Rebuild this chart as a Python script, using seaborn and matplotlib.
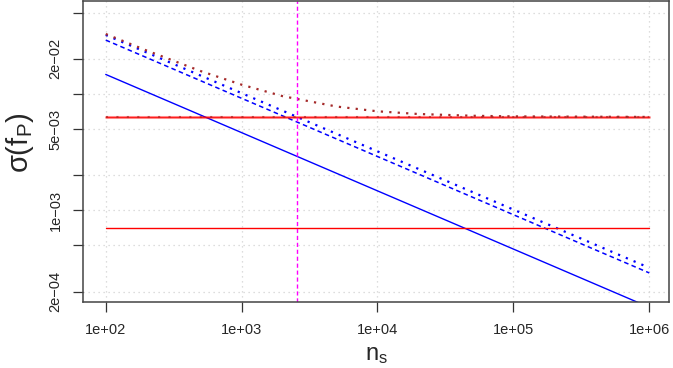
import numpy as np
import seaborn as sns
from matplotlib import pyplot as plt
from matplotlib import ticker

# values (log-log axes)
n_line = [1e2, 1e3, 1e4, 1e5, 1e6]
blue_solid = [0.0147, 0.00465, 0.00147, 0.000465, 0.000147]
blue_dashed = [0.0290, 0.00917, 0.00290, 0.000917, 0.000290]
blue_dotted = [0.0321, 0.01015, 0.00321, 0.001015, 0.000321]

n_curve = [1e2, 2e2, 5e2, 1e3, 2e3, 5e3, 1e4, 2e4, 5e4, 1e5, 1e6]
brown_dotted = [0.0327, 0.0236, 0.0157, 0.0120, 0.00957, 0.00779,
                0.00709, 0.00672, 0.00649, 0.00641, 0.00634]

n_flat = [1e2, 1e6]
red_high = [0.00633, 0.00633]
red_low = [0.00070, 0.00070]

n_cut = 2570

x_ticks = [1e2, 1e3, 1e4, 1e5, 1e6]
x_labels = ["1e+02", "1e+03", "1e+04", "1e+05", "1e+06"]
y_ticks = [2e-4, 5e-4, 1e-3, 2e-3, 5e-3, 1e-2, 2e-2, 5e-2]
y_labels = ["2e\u221204", "", "1e\u221203", "", "5e\u221203", "", "2e\u221202", ""]

sns.set_style("white")
plt.rcParams['font.family'] = ['Liberation Sans', 'DejaVu Sans']
plt.rcParams['mathtext.fontset'] = 'custom'
plt.rcParams['mathtext.rm'] = 'Liberation Sans'
plt.rcParams['mathtext.it'] = 'Liberation Sans'

fig = plt.figure(figsize=(6.73, 3.68), dpi=100)
ax = fig.add_axes([0.1238, 0.1785, 0.8698, 0.8175])
ax.set_xscale('log')
ax.set_yscale('log')

# grid
for xt in x_ticks:
    ax.axvline(xt, color='#d3d3d3', lw=0.9, linestyle=(0, (1, 3)), zorder=0)
for yt in y_ticks:
    ax.axhline(yt, color='#d3d3d3', lw=0.9, linestyle=(0, (1, 3)), zorder=0)

sns.lineplot(x=n_line, y=blue_solid, color='blue', lw=1, ax=ax)
sns.lineplot(x=n_line, y=blue_dashed, color='blue', lw=1.1, linestyle=(0, (3, 2.2)), ax=ax)
sns.lineplot(x=n_line, y=blue_dotted, color='blue', lw=1.6, linestyle=(0, (1, 2.8)), ax=ax)
sns.lineplot(x=n_flat, y=red_high, color='red', lw=2.2, alpha=0.4, ax=ax)
sns.lineplot(x=n_flat, y=red_high, color='red', lw=0.9, alpha=0.8, ax=ax)
sns.lineplot(x=n_flat, y=red_high, color='#b22222', lw=1.5, linestyle=(0, (1, 4)), alpha=0.7, ax=ax)
sns.lineplot(x=n_curve, y=brown_dotted, color='#a52a2a', lw=1.6, linestyle=(0, (1, 2.8)), ax=ax)
sns.lineplot(x=n_flat, y=red_low, color='red', lw=1, ax=ax)
ax.axvline(n_cut, color='magenta', lw=1, linestyle=(0, (3, 2)))

ax.set_xlim(10 ** 1.835, 10 ** 6.143)
ax.set_ylim(10 ** -3.790, 10 ** -1.206)

ax.xaxis.set_major_locator(ticker.FixedLocator(x_ticks))
ax.xaxis.set_major_formatter(ticker.FixedFormatter(x_labels))
ax.xaxis.set_minor_locator(ticker.NullLocator())
ax.yaxis.set_major_locator(ticker.FixedLocator(y_ticks))
ax.yaxis.set_major_formatter(ticker.FixedFormatter(y_labels))
ax.yaxis.set_minor_locator(ticker.NullLocator())
ax.tick_params(axis='both', direction='out', length=7, width=0.9, color='#333333',
               labelsize=10.5, bottom=True, left=True, pad=8)
plt.setp(ax.get_yticklabels(), rotation=90, va='center')

for s in ax.spines.values():
    s.set_color('#444444')
    s.set_linewidth(1.1)

fig.text(0.559, 0.035, r'$\mathregular{n_s}$', fontsize=17, ha='center', va='center')
fig.text(0.030, 0.612, r'$\mathregular{\sigma(f_P)}$', fontsize=21, rotation=90,
         ha='center', va='center')

plt.savefig("out.png", dpi=100)
